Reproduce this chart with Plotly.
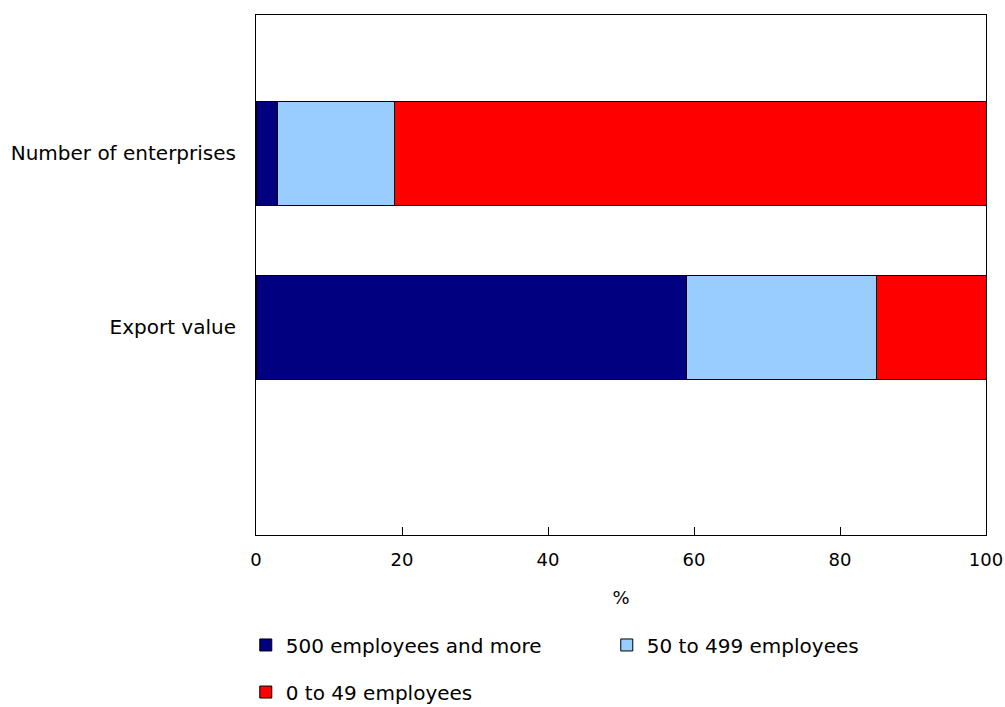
import plotly.graph_objects as go

categories = ["Number of enterprises", "Export value"]
series_names = ["500 employees and more", "50 to 499 employees", "0 to 49 employees"]
large = [3, 59]
medium = [16, 26]
small = [81, 15]
colors = ["#000080", "#99ccff", "#ff0000"]
x_ticks = [0, 20, 40, 60, 80, 100]

fig = go.Figure()
vals = [large, medium, small]
legends = ["legend", "legend", "legend2"]
for name, v, c, lg in zip(series_names, vals, colors, legends):
    fig.add_trace(go.Bar(
        y=categories, x=v, name=name, orientation="h",
        marker=dict(color=c, line=dict(color="#000000", width=1)),
        width=0.603, legend=lg,
    ))

fam = "DejaVu Sans, Verdana, sans-serif"
font = dict(family=fam, size=20, color="#000000")
tick_font = dict(family=fam, size=18, color="#000000")
fig.update_layout(
    barmode="stack",
    width=1005, height=707,
    margin=dict(l=256, r=19, t=15, b=172, autoexpand=False),
    paper_bgcolor="white", plot_bgcolor="white",
    font=font,
    xaxis=dict(range=[0, 100], tickvals=x_ticks, ticks="inside", ticklen=8,
               tickcolor="#000", showline=True, linecolor="#000", linewidth=1,
               mirror=True, showgrid=False, zeroline=False, tickfont=tick_font,
               ticklabelstandoff=8,
               title=dict(text="%", standoff=22, font=tick_font)),
    yaxis=dict(type="category", range=[2.193, -0.796], showline=True,
               linecolor="#000", linewidth=1, mirror=True, showgrid=False,
               ticks="", ticklabelstandoff=15, tickfont=font),
    legend=dict(orientation="h", x=-0.014, xanchor="left", y=-0.2115, yanchor="middle",
                entrywidth=316, entrywidthmode="pixels", font=font, traceorder="normal"),
    legend2=dict(orientation="h", x=-0.014, xanchor="left", y=-0.302, yanchor="middle",
                 font=font),
    showlegend=True,
)
fig.write_html("out.html")
